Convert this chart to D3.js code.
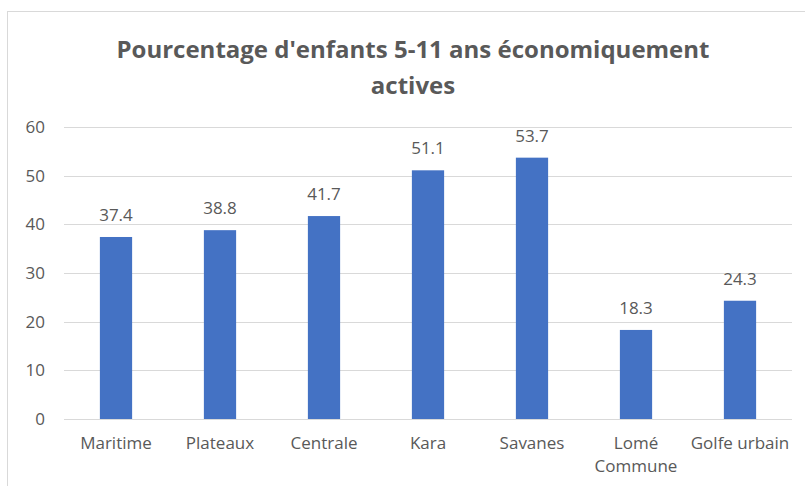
<!DOCTYPE html>
<html>
<head>
<meta charset="utf-8">
<script src="https://cdn.jsdelivr.net/npm/d3@7"></script>
<style>
  body { margin: 0; background: #fff; }
  text { font-family: "Open Sans", sans-serif; fill: #595959; }
</style>
</head>
<body>
<div id="chart"></div>
<script>
const regions = ["Maritime", "Plateaux", "Centrale", "Kara", "Savanes", "Lomé Commune", "Golfe urbain"];
const values = [37.4, 38.8, 41.7, 51.1, 53.7, 18.3, 24.3];
const yTicks = [0, 10, 20, 30, 40, 50, 60];
const titleLines = ["Pourcentage d'enfants 5-11 ans économiquement", "actives"];

const width = 805, height = 486;
const margin = {top: 127, right: 13, bottom: 67, left: 64};

const svg = d3.select("#chart").append("svg")
    .attr("width", width).attr("height", height);

// cadre du graphique
svg.append("rect")
    .attr("x", 7.5).attr("y", 11.5)
    .attr("width", 820).attr("height", 500)
    .attr("fill", "none").attr("stroke", "#d9d9d9");

const x = d3.scaleBand()
    .domain(regions)
    .range([margin.left, width - margin.right])
    .paddingInner(0.69).paddingOuter(0.345);

const y = d3.scaleLinear()
    .domain([0, 60])
    .range([height - margin.bottom, margin.top]);

// grille
svg.append("g")
    .selectAll("line")
    .data(yTicks)
    .enter()
    .append("line")
    .attr("x1", margin.left).attr("x2", width - margin.right)
    .attr("y1", d => Math.round(y(d)) + 0.5).attr("y2", d => Math.round(y(d)) + 0.5)
    .attr("stroke", "#d9d9d9").attr("stroke-width", 1);

// axe y
const yAxis = svg.append("g")
    .attr("transform", `translate(${margin.left - 19},0)`)
    .call(d3.axisLeft(y).tickValues(yTicks).tickSize(0).tickPadding(0));
yAxis.select(".domain").remove();
yAxis.selectAll("text").style("font-size", "17px").style("font-family", "Open Sans").attr("fill", "#595959");

// barres
svg.selectAll("rect.bar")
    .data(values)
    .enter()
    .append("rect")
    .attr("class", "bar")
    .attr("x", (d, i) => x(regions[i]))
    .attr("y", d => y(d))
    .attr("width", x.bandwidth())
    .attr("height", d => y(0) - y(d))
    .attr("fill", "#4472c4");

// étiquettes de valeurs
svg.selectAll("text.val")
    .data(values)
    .enter()
    .append("text")
    .attr("class", "val")
    .attr("x", (d, i) => x(regions[i]) + x.bandwidth() / 2)
    .attr("y", d => y(d) - 16)
    .attr("text-anchor", "middle")
    .style("font-size", "17px")
    .text(d => d.toFixed(1));

// axe x
const xAxis = svg.append("g")
    .attr("transform", `translate(0,${height - margin.bottom})`)
    .call(d3.axisBottom(x).tickSize(0).tickPadding(0).tickFormat(""));
xAxis.select(".domain").remove();

svg.selectAll("text.cat")
    .data(regions)
    .enter()
    .append("text")
    .attr("class", "cat")
    .attr("text-anchor", "middle")
    .attr("x", d => x(d) + x.bandwidth() / 2)
    .attr("y", 449)
    .style("font-size", "17px")
    .each(function(d) {
        const lines = d === "Lomé Commune" ? ["Lomé", "Commune"] : [d];
        lines.forEach((l, k) => {
            d3.select(this).append("tspan")
                .attr("x", x(d) + x.bandwidth() / 2)
                .attr("dy", k === 0 ? 0 : 23)
                .text(l);
        });
    });

// titre
svg.selectAll("text.title")
    .data(titleLines)
    .enter()
    .append("text")
    .attr("class", "title")
    .attr("x", 413)
    .attr("y", (d, i) => 58 + i * 36)
    .attr("text-anchor", "middle")
    .style("font-size", "24px")
    .style("font-weight", "bold")
    .text(d => d);
</script>
</body>
</html>
